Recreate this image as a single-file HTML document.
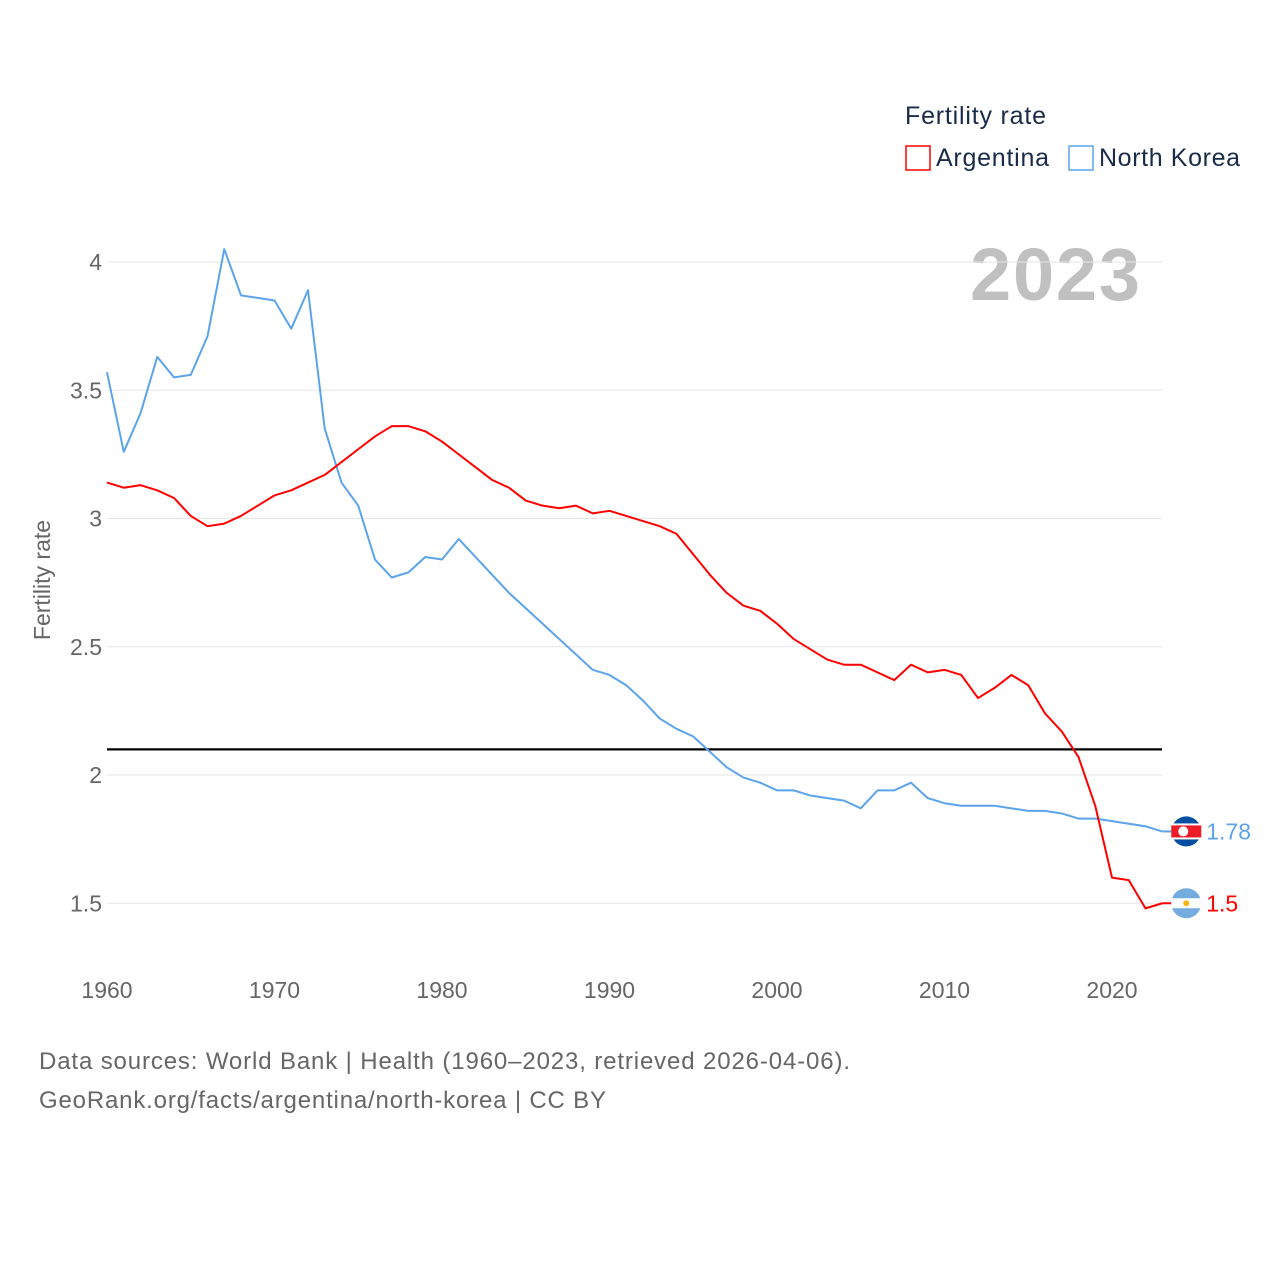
<!DOCTYPE html>
<html><head><meta charset="utf-8"><style>
body{margin:0;background:#fff;font-family:"Liberation Sans",sans-serif;}
svg text{font-family:"Liberation Sans",sans-serif;}
</style></head><body>
<svg id="chart" width="1280" height="1280" viewBox="0 0 1280 1280" xmlns="http://www.w3.org/2000/svg">
<text x="905" y="124" font-size="25" fill="#1a2b4a" textLength="141">Fertility rate</text>
<g><rect x="906" y="146" width="24" height="24" fill="none" stroke="#ff0000" stroke-width="1.5"/><text x="936" y="166" font-size="25" fill="#1a2b4a" textLength="113">Argentina</text></g>
<g><rect x="1069" y="146" width="24" height="24" fill="none" stroke="#5ba4ec" stroke-width="1.5"/><text x="1099" y="166" font-size="25" fill="#1a2b4a" textLength="141">North Korea</text></g>
<text x="970" y="300" font-size="74" font-weight="bold" fill="#c0c0c0" textLength="170">2023</text>
<g id="grid"></g>
<g id="yticks"></g>
<g id="xticks"></g>
<text transform="translate(50,580) rotate(-90)" font-size="23" fill="#666" text-anchor="middle">Fertility rate</text>
<g id="series"></g>
<text x="39" y="1069" font-size="24" fill="#666" textLength="811">Data sources: World Bank | Health (1960–2023, retrieved 2026-04-06).</text>
<text x="39" y="1108" font-size="24" fill="#666" textLength="567">GeoRank.org/facts/argentina/north-korea | CC BY</text>
</svg>
<script>
const years = [];
for (let y = 1960; y <= 2023; y++) years.push(y);
const argentina = [3.14,3.12,3.13,3.11,3.08,3.01,2.97,2.98,3.01,3.05,3.09,3.11,3.14,3.17,3.22,3.27,3.32,3.36,3.36,3.34,3.30,3.25,3.20,3.15,3.12,3.07,3.05,3.04,3.05,3.02,3.03,3.01,2.99,2.97,2.94,2.86,2.78,2.71,2.66,2.64,2.59,2.53,2.49,2.45,2.43,2.43,2.40,2.37,2.43,2.40,2.41,2.39,2.30,2.34,2.39,2.35,2.24,2.17,2.07,1.88,1.60,1.59,1.48,1.50];
const northKorea = [3.57,3.26,3.41,3.63,3.55,3.56,3.71,4.05,3.87,3.86,3.85,3.74,3.89,3.35,3.14,3.05,2.84,2.77,2.79,2.85,2.84,2.92,2.85,2.78,2.71,2.65,2.59,2.53,2.47,2.41,2.39,2.35,2.29,2.22,2.18,2.15,2.09,2.03,1.99,1.97,1.94,1.94,1.92,1.91,1.90,1.87,1.94,1.94,1.97,1.91,1.89,1.88,1.88,1.88,1.87,1.86,1.86,1.85,1.83,1.83,1.82,1.81,1.80,1.78];
const yTicks = [1.5,2,2.5,3,3.5,4];
const yTickLabels = ["1.5","2","2.5","3","3.5","4"];
const xTicks = [1960,1970,1980,1990,2000,2010,2020];
const replacement = [2.1];
const NS = "http://www.w3.org/2000/svg";
const xS = y => 107 + (y - 1960) * 16.75;
const yS = v => 262 + (4 - v) * 256.5;
function mk(tag, attrs, parent, txt){const e=document.createElementNS(NS,tag);for(const k in attrs)e.setAttribute(k,attrs[k]);if(txt!==undefined)e.textContent=txt;parent.appendChild(e);return e;}
const grid=document.getElementById('grid'), yt=document.getElementById('yticks'), xt=document.getElementById('xticks'), ser=document.getElementById('series');
yTicks.forEach((v,i)=>{
  const l=mk('line',{x1:107,x2:1162,y1:yS(v),y2:yS(v),stroke:'#e6e6e6','stroke-width':1},grid);
  
  
  const t=mk('text',{x:102,y:yS(v)+8,'font-size':23,fill:'#666','text-anchor':'end'},yt,yTickLabels[i]);
  
  
});
xTicks.forEach(y=>{
  const t=mk('text',{x:xS(y),y:998,'font-size':23,fill:'#666','text-anchor':'middle'},xt,String(y));
  
  
});
const ref=mk('line',{x1:107,x2:1162,y1:yS(replacement[0]),y2:yS(replacement[0]),stroke:'#000','stroke-width':2.2},ser);


function line(vals,color,name){
  const p=mk('polyline',{points:vals.map((v,i)=>xS(years[i])+','+yS(v)).join(' '),fill:'none',stroke:color,'stroke-width':2,'stroke-linejoin':'round'},ser);
  
  
}
line(northKorea,'#5ba4ec','north-korea-line');
line(argentina,'#ff0000','argentina-line');
function endLabel(vals,color,name,flag){
  const v=vals[vals.length-1], x=xS(years[years.length-1]), y=yS(v);
  const g=mk('g',{},ser);
  
  
  mk('line',{x1:x,x2:x+12,y1:y,y2:y,stroke:color,'stroke-width':2},g);
  const cx=x+24;
  if(flag==='kp'){
    mk('circle',{cx:cx,cy:y,r:15,fill:'#024fa2'},g);
    mk('rect',{x:cx-15,y:y-8,width:30,height:16,fill:'#fff'},g);
    mk('rect',{x:cx-15,y:y-6,width:30,height:12,fill:'#ed1c27'},g);
    mk('circle',{cx:cx-3,cy:y,r:5,fill:'#fff'},g);
  } else {
    mk('circle',{cx:cx,cy:y,r:15,fill:'#74acdf'},g);
    mk('rect',{x:cx-15,y:y-5,width:30,height:10,fill:'#fff'},g);
    mk('circle',{cx:cx,cy:y,r:3,fill:'#f6b40e'},g);
  }
  mk('text',{x:x+44,y:y+8,'font-size':23,fill:color},g,String(v));
}
endLabel(northKorea,'#5ba4ec','north-korea-end-label','kp');
endLabel(argentina,'#ff0000','argentina-end-label','ar');
</script>
</body></html>
